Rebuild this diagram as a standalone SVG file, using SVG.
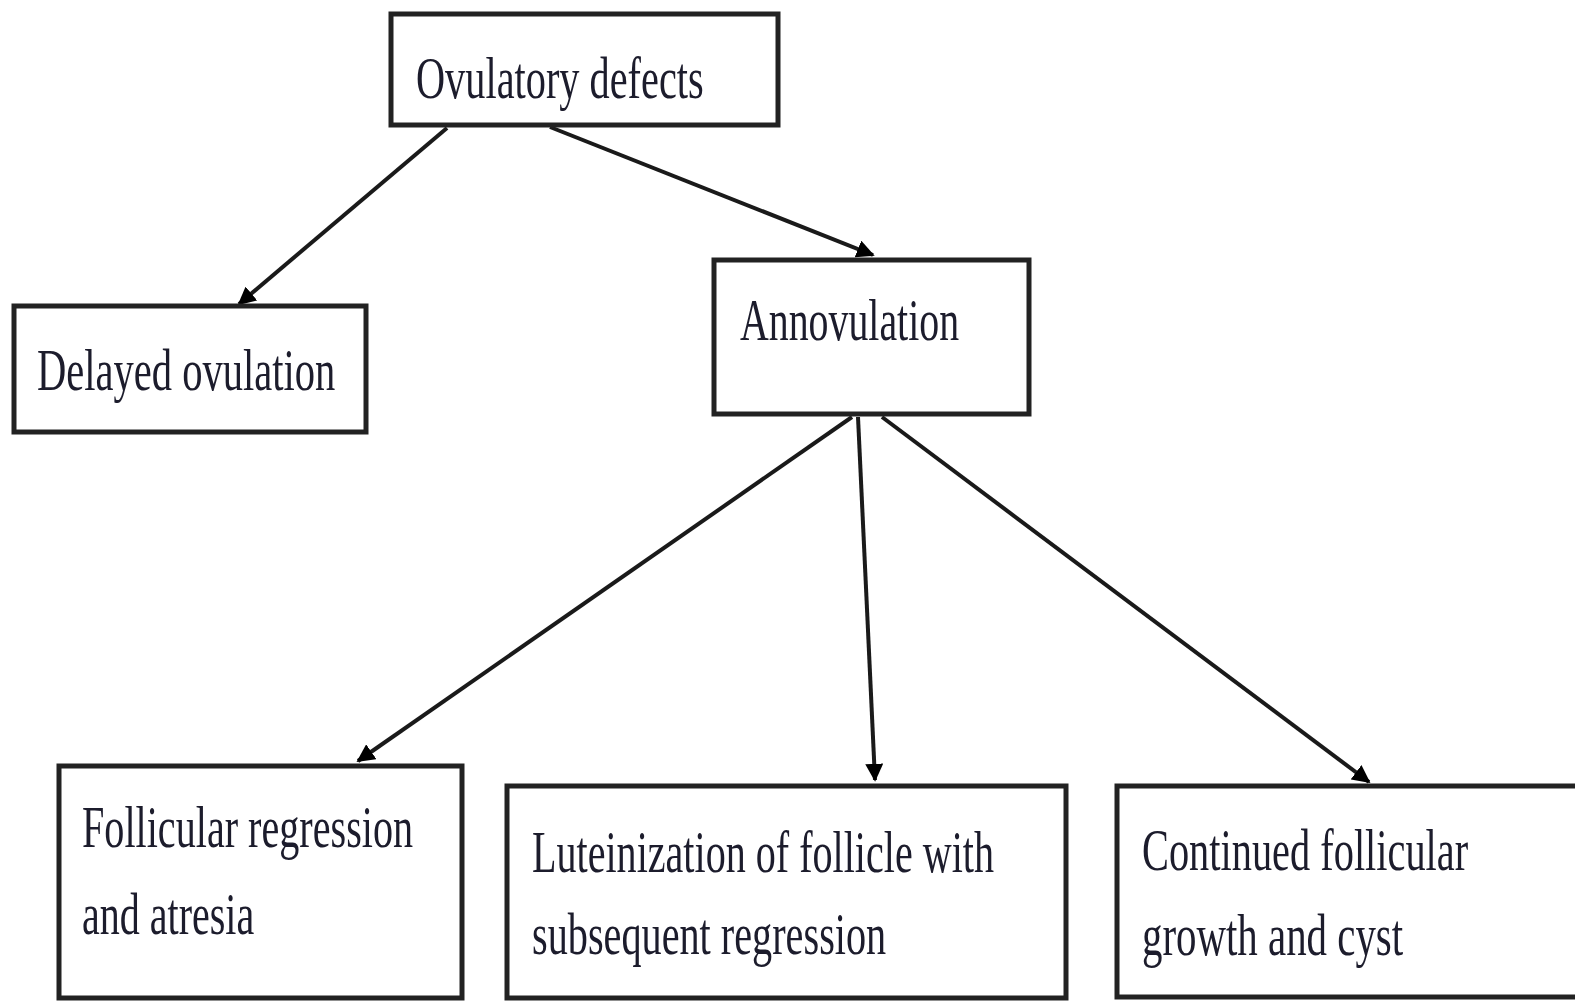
<svg xmlns="http://www.w3.org/2000/svg" width="1575" height="1002" viewBox="0 0 1575 1002">
<style>
.box{fill:#fff;stroke:#222;stroke-width:5}
.t{font-family:"Liberation Serif","Times New Roman",serif;font-size:60px;fill:#1c1c2c}
.c{stroke:#1a1a1a;stroke-width:4;fill:none;marker-end:url(#ah)}
</style>
<defs>
<marker id="ah" viewBox="0 0 10 10" refX="9" refY="5" markerWidth="4.5" markerHeight="4.5" orient="auto" markerUnits="strokeWidth">
<path d="M0,0 L10,5 L0,10 z" fill="#000"/>
</marker>
</defs>
<rect width="1575" height="1002" fill="#fff"/>
<g id="connectors">
<line class="c" x1="447" y1="128" x2="239" y2="304"/>
<line class="c" x1="550" y1="127" x2="873" y2="255"/>
<line class="c" x1="852" y1="417" x2="358" y2="761"/>
<line class="c" x1="858" y1="417" x2="875" y2="780"/>
<line class="c" x1="882" y1="417" x2="1369" y2="782"/>
</g>
<g id="ovulatory">
<rect class="box" x="391" y="14" width="387" height="111"/>
<text class="t" transform="translate(416,98) scale(0.7,1)" x="0" y="0" textLength="411" lengthAdjust="spacingAndGlyphs">Ovulatory defects</text>
</g>
<g id="delayed">
<rect class="box" x="14" y="306" width="352" height="126"/>
<text class="t" transform="translate(37,390) scale(0.7,1)" x="0" y="0" textLength="426" lengthAdjust="spacingAndGlyphs">Delayed ovulation</text>
</g>
<g id="annovulation">
<rect class="box" x="714" y="260" width="315" height="154"/>
<text class="t" transform="translate(740,340) scale(0.7,1)" x="0" y="0" textLength="313" lengthAdjust="spacingAndGlyphs">Annovulation</text>
</g>
<g id="follicular">
<rect class="box" x="59" y="766" width="403" height="232"/>
<text class="t" transform="translate(82,847) scale(0.7,1)" x="0" y="0" textLength="473" lengthAdjust="spacingAndGlyphs">Follicular regression</text>
<text class="t" transform="translate(82,934) scale(0.7,1)" x="0" y="0" textLength="246" lengthAdjust="spacingAndGlyphs">and atresia</text>
</g>
<g id="luteinization">
<rect class="box" x="507" y="786" width="559" height="212"/>
<text class="t" transform="translate(532,872) scale(0.7,1)" x="0" y="0" textLength="660" lengthAdjust="spacingAndGlyphs">Luteinization of follicle with</text>
<text class="t" transform="translate(532,954) scale(0.7,1)" x="0" y="0" textLength="506" lengthAdjust="spacingAndGlyphs">subsequent regression</text>
</g>
<g id="continued">
<rect class="box" x="1117" y="786" width="470" height="211"/>
<text class="t" transform="translate(1142,870) scale(0.7,1)" x="0" y="0" textLength="466" lengthAdjust="spacingAndGlyphs">Continued follicular</text>
<text class="t" transform="translate(1142,955) scale(0.7,1)" x="0" y="0" textLength="373" lengthAdjust="spacingAndGlyphs">growth and cyst</text>
</g>
</svg>
